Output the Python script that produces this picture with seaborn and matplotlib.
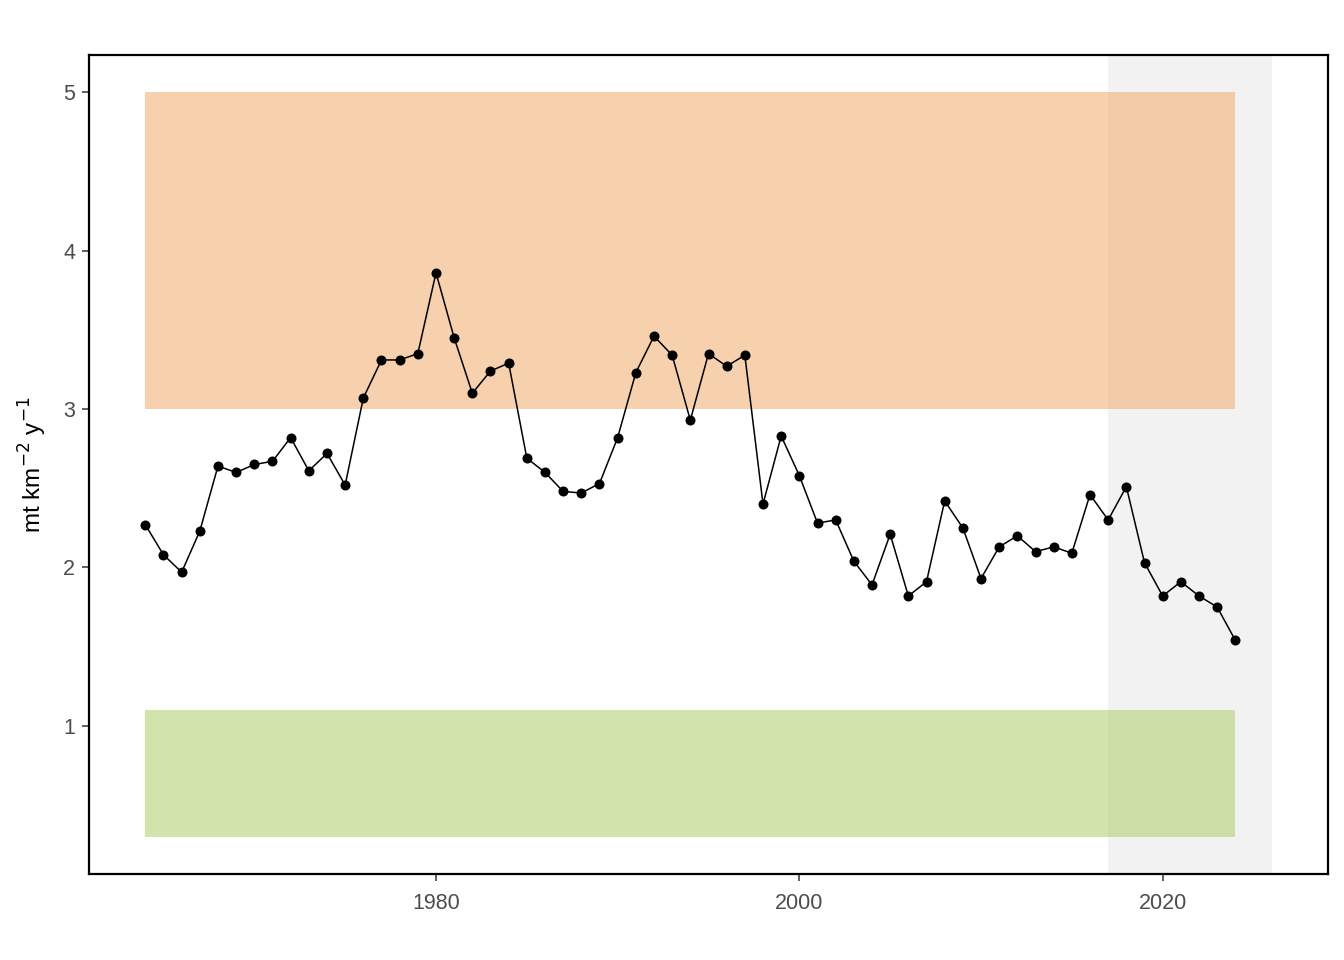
import numpy as np
import pandas as pd
import matplotlib
matplotlib.use("Agg")
import matplotlib.pyplot as plt
import seaborn as sns

years = list(range(1964, 2025))
values = [2.27, 2.08, 1.97, 2.23, 2.64, 2.60, 2.65, 2.67, 2.82, 2.61,
          2.72, 2.52, 3.07, 3.31, 3.31, 3.35, 3.86, 3.45, 3.10, 3.24,
          3.29, 2.69, 2.60, 2.48, 2.47, 2.53, 2.82, 3.23, 3.46, 3.34,
          2.93, 3.35, 3.27, 3.34, 2.40, 2.83, 2.58, 2.28, 2.30, 2.04,
          1.89, 2.21, 1.82, 1.91, 2.42, 2.25, 1.93, 2.13, 2.20, 2.10,
          2.13, 2.09, 2.46, 2.30, 2.51, 2.03, 1.82, 1.91, 1.82, 1.75,
          1.54]

high_band = [3.0, 5.0]
low_band = [0.3, 1.1]
band_years = [1964, 2024]
recent_window = [2017, 2026]
x_ticks = [1980, 2000, 2020]
y_ticks = [1, 2, 3, 4, 5]

df = pd.DataFrame({"year": years, "value": values})

sns.set_theme(style="white")
plt.rcParams["font.family"] = ["Liberation Sans", "DejaVu Sans"]

fig = plt.figure(figsize=(13.44, 9.6), dpi=100)
ax = fig.add_axes([89/1344, 1 - 874/960, (1328-89)/1344, (874-55)/960])

ax.axvspan(recent_window[0], recent_window[1], color="#F2F2F2", lw=0, zorder=1)
ax.fill_between(band_years, high_band[0], high_band[1], color="#F1A35D", alpha=0.5, lw=0, zorder=2)
ax.fill_between(band_years, low_band[0], low_band[1], color="#A5CB5B", alpha=0.5, lw=0, zorder=2)

sns.lineplot(data=df, x="year", y="value", ax=ax, color="black", lw=1.1, zorder=3)
sns.scatterplot(data=df, x="year", y="value", ax=ax, color="black", s=52,
                edgecolor="black", linewidth=0, zorder=4)

ax.set_xlim(1960.9, 2029.1)
ax.set_ylim(0.065, 5.235)
ax.set_xticks(x_ticks)
ax.set_yticks(y_ticks)
ax.set_xlabel("")
ax.set_ylabel(r"mt km$^{-2}$ y$^{-1}$", fontsize=17.5, color="black", labelpad=10)
ax.tick_params(axis="both", which="both", length=5, width=1.1, color="#333333",
               labelsize=15.5, labelcolor="#4D4D4D", bottom=True, left=True,
               direction="out")
ax.tick_params(axis="x", pad=9)
ax.tick_params(axis="y", pad=5)
for sp in ax.spines.values():
    sp.set_color("black")
    sp.set_linewidth(1.6)
ax.grid(False)

fig.savefig("out.png", dpi=100)
